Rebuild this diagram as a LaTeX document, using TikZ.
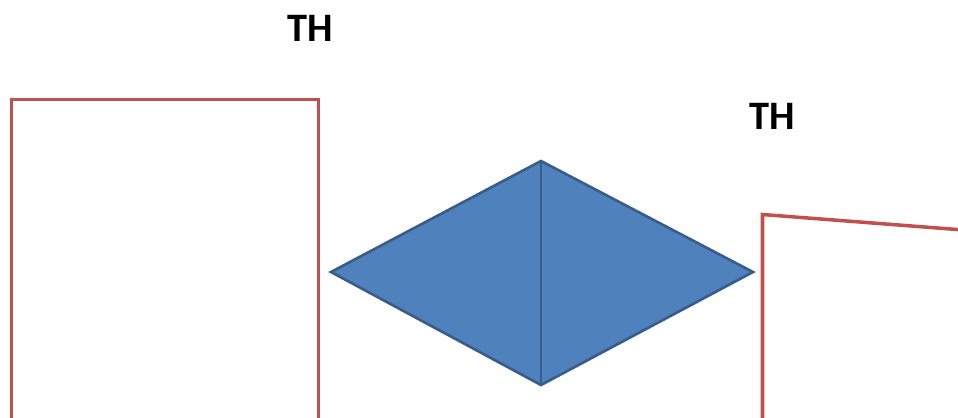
\documentclass[tikz,border=0pt]{standalone}
\usepackage{fontspec}
\setmainfont{Carlito}
\usepackage{tikz}
\definecolor{boxred}{HTML}{C0504D}
\definecolor{kitefill}{HTML}{4F81BD}
\definecolor{kiteline}{HTML}{385D8A}

\begin{document}
\begin{tikzpicture}[x=0.02cm,y=-0.02cm,
  redbox/.style={draw=boxred,line width=2pt,line join=miter},
  kite/.style={draw=kiteline,fill=kitefill,line width=1.5pt,line join=miter},
  thlabel/.style={font=\fontsize{23}{26}\selectfont\bfseries,inner sep=0pt}]
\useasboundingbox (0,0) rectangle (958,417);
% left frame, open at the bottom edge
\begin{scope}
\clip (0,0) rectangle (958,417);
\draw[redbox] (11.5,430) -- (11.5,99.5) -- (318.5,99.5) -- (318.5,430);
% right frame, tilted top edge
\draw[redbox] (762.5,430) -- (762.5,214.5) -- (970,230.5);
\end{scope}
% diamond split in two halves
\coordinate (kL) at (331,272);
\coordinate (kT) at (541,161);
\coordinate (kR) at (753,272);
\coordinate (kB) at (541,385);
\draw[kite] (kL) -- (kT) -- (kR) -- (kB) -- cycle;
\draw[kite] (kT) -- (kB);
% labels
\node[thlabel] (thA) at (310,28) {TH};
\node[thlabel] (thB) at (772,116) {TH};
\end{tikzpicture}
\end{document}
